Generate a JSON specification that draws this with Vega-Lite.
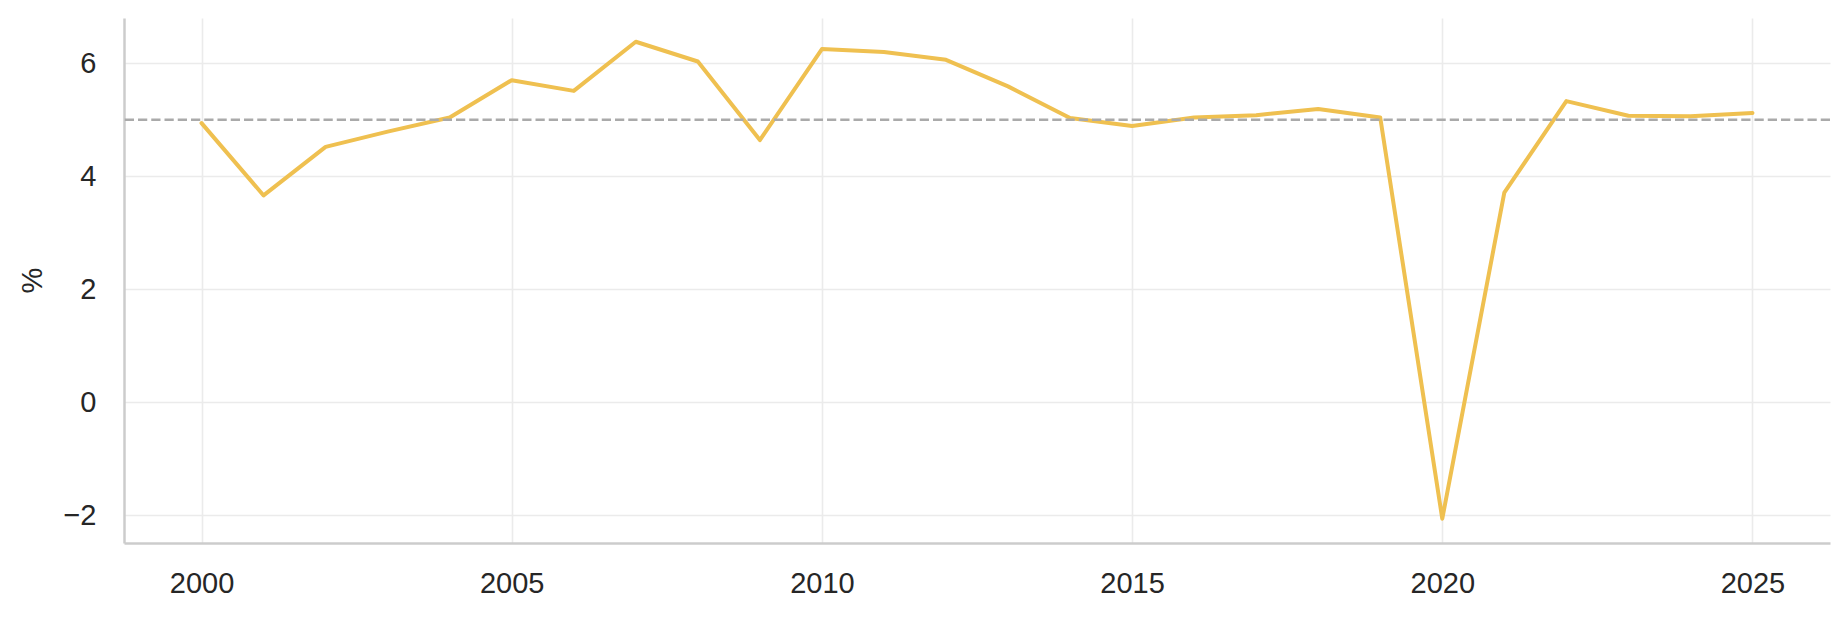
{
  "$schema": "https://vega.github.io/schema/vega-lite/v6.json",
  "autosize": "none",
  "width": 1706,
  "height": 525,
  "padding": {"left": 124, "top": 18, "right": 18, "bottom": 75},
  "background": "white",
  "config": {
    "view": {"stroke": null},
    "font": "Liberation Sans",
    "axis": {
      "labelFont": "Liberation Sans",
      "titleFont": "Liberation Sans",
      "labelFontSize": 29,
      "titleFontSize": 29,
      "labelColor": "#262626",
      "titleColor": "#262626",
      "titleFontWeight": "normal",
      "ticks": false,
      "tickSize": 0,
      "domainColor": "#cccccc",
      "domainWidth": 2.5,
      "gridColor": "#ebebeb",
      "gridWidth": 1.6
    }
  },
  "layer": [
    {
      "data": {
        "values": [
          {"year": 2000, "value": 4.94},
          {"year": 2001, "value": 3.66},
          {"year": 2002, "value": 4.52},
          {"year": 2003, "value": 4.79},
          {"year": 2004, "value": 5.04},
          {"year": 2005, "value": 5.70},
          {"year": 2006, "value": 5.51},
          {"year": 2007, "value": 6.38},
          {"year": 2008, "value": 6.03},
          {"year": 2009, "value": 4.64},
          {"year": 2010, "value": 6.25},
          {"year": 2011, "value": 6.20},
          {"year": 2012, "value": 6.06},
          {"year": 2013, "value": 5.59},
          {"year": 2014, "value": 5.03},
          {"year": 2015, "value": 4.89},
          {"year": 2016, "value": 5.04},
          {"year": 2017, "value": 5.08},
          {"year": 2018, "value": 5.19},
          {"year": 2019, "value": 5.04},
          {"year": 2020, "value": -2.06},
          {"year": 2021, "value": 3.71},
          {"year": 2022, "value": 5.33},
          {"year": 2023, "value": 5.07},
          {"year": 2024, "value": 5.06},
          {"year": 2025, "value": 5.12}
        ]
      },
      "mark": {"type": "line", "color": "#EFC050", "strokeWidth": 4, "strokeCap": "round", "strokeJoin": "round"},
      "encoding": {
        "x": {
          "field": "year",
          "type": "quantitative",
          "scale": {"domain": [1998.75, 2026.25], "nice": false, "zero": false},
          "axis": {
            "title": null,
            "values": [2000, 2005, 2010, 2015, 2020, 2025],
            "format": "d",
            "labelPadding": 26,
            "labelBaseline": "top",
            "labelFlush": false
          }
        },
        "y": {
          "field": "value",
          "type": "quantitative",
          "scale": {"domain": [-2.49, 6.8], "nice": false, "zero": false},
          "axis": {
            "title": "%",
            "values": [-2, 0, 2, 4, 6],
            "format": "d",
            "labelPadding": 28,
            "labelBaseline": "middle",
            "titleAngle": -90,
            "titleX": -92,
            "titleY": 262,
            "titleAlign": "center",
            "titleBaseline": "middle"
          }
        }
      }
    },
    {
      "data": {"values": [{"ref": 5}]},
      "mark": {"type": "rule", "color": "#aaaaaa", "strokeWidth": 2.5, "strokeDash": [9.25, 4]},
      "encoding": {
        "y": {"field": "ref", "type": "quantitative"}
      }
    }
  ]
}
